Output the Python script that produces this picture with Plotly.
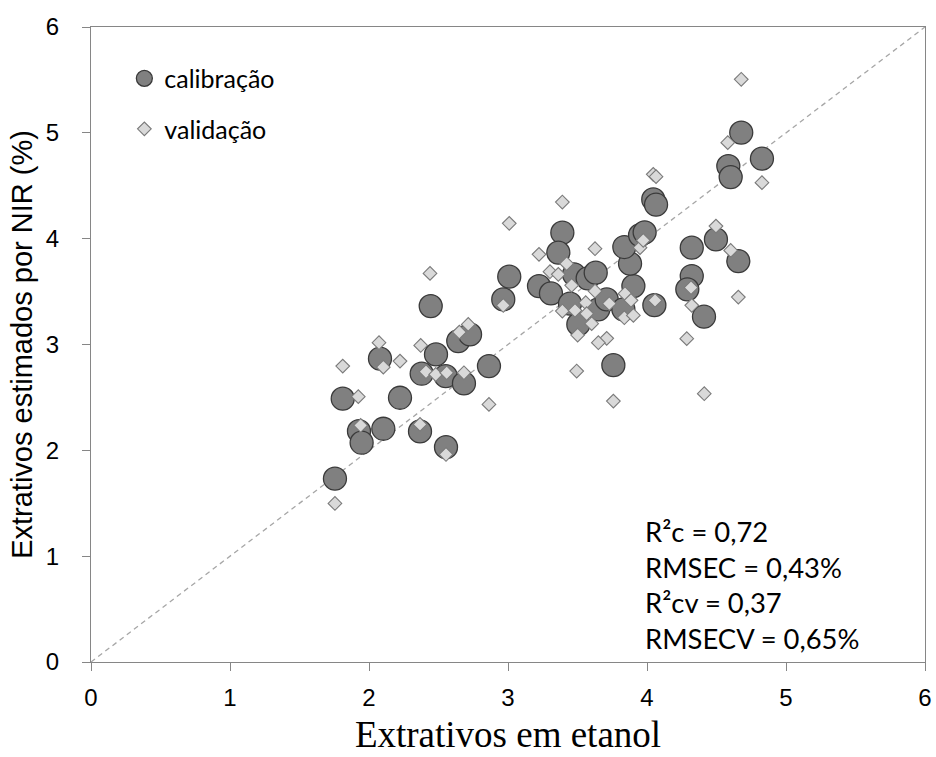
import plotly.graph_objects as go

# Calibração (círculos)
cal_x = [1.755, 1.811, 1.928, 1.947, 2.103, 2.079, 2.223, 2.367, 2.379, 2.482,
         2.444, 2.554, 2.552, 2.642, 2.727, 2.683, 2.863, 2.966, 3.009, 3.223,
         3.309, 3.391, 3.362, 3.475, 3.573, 3.631, 3.446, 3.506, 3.650, 3.710,
         3.830, 3.902, 3.878, 3.837, 3.950, 3.983, 4.053, 3.758, 4.045, 4.065,
         4.322, 4.496, 4.322, 4.290, 4.410, 4.657, 4.585, 4.602, 4.678, 4.827]
cal_y = [1.732, 2.488, 2.181, 2.072, 2.204, 2.866, 2.497, 2.179, 2.724, 2.906,
         3.363, 2.030, 2.701, 3.032, 3.095, 2.632, 2.796, 3.426, 3.641, 3.552,
         3.483, 4.057, 3.868, 3.663, 3.625, 3.679, 3.386, 3.190, 3.332, 3.426,
         3.332, 3.552, 3.764, 3.921, 4.034, 4.060, 3.372, 2.805, 4.371, 4.321,
         3.915, 3.993, 3.647, 3.521, 3.263, 3.788, 4.686, 4.582, 5.002, 4.756]

# Validação (losangos)
val_x = [1.755, 1.811, 1.923, 1.940, 2.072, 2.103, 2.223, 2.372, 2.367, 2.410,
         2.480, 2.439, 2.559, 2.554, 2.650, 2.714, 2.683, 2.863, 2.966, 3.009,
         3.223, 3.391, 3.422, 3.302, 3.362, 3.458, 3.626, 3.626, 3.559, 3.729,
         3.842, 3.885, 3.391, 3.482, 3.566, 3.602, 3.837, 3.902, 3.501, 3.710,
         3.650, 4.058, 3.950, 3.973, 3.494, 3.758, 4.412, 4.286, 4.322, 4.317,
         4.657, 4.602, 4.496, 4.827, 4.045, 4.065, 4.581, 4.678]
val_y = [1.498, 2.796, 2.507, 2.235, 3.017, 2.786, 2.843, 2.991, 2.245, 2.743,
         2.717, 3.672, 2.733, 1.961, 3.117, 3.190, 2.733, 2.434, 3.369, 4.145,
         3.852, 4.346, 3.764, 3.688, 3.663, 3.559, 3.905, 3.505, 3.395, 3.386,
         3.480, 3.417, 3.316, 3.322, 3.291, 3.197, 3.253, 3.275, 3.089, 3.058,
         3.017, 3.417, 3.915, 3.984, 2.749, 2.465, 2.535, 3.055, 3.370, 3.537,
         3.448, 3.889, 4.119, 4.529, 4.608, 4.586, 4.907, 5.506]

ref_line = [0, 6]
tick_vals = [0, 1, 2, 3, 4, 5, 6]
tick_text = ["0", "1", "2", "3", "4", "5", "6"]

stats_lines = ["R²c = 0,72", "RMSEC = 0,43%", "R²cv = 0,37", "RMSECV = 0,65%"]

fig = go.Figure()
fig.add_trace(go.Scatter(x=ref_line, y=ref_line, mode="lines", showlegend=False,
                         line=dict(color="#a6a6a6", width=1.3, dash="5px,4px"),
                         hoverinfo="skip"))
fig.add_trace(go.Scatter(x=cal_x, y=cal_y, mode="markers", name="calibração",
                         legendgroup="c",
                         marker=dict(symbol="circle", size=23, color="#808080",
                                     line=dict(color="#3a3a3a", width=1.3))))
fig.add_trace(go.Scatter(x=val_x, y=val_y, mode="markers", name="validação",
                         legendgroup="v",
                         marker=dict(symbol="diamond", size=10.5, color="#d9d9d9",
                                     line=dict(color="#7a7a7a", width=1.1))))

axis_common = dict(range=[0, 6], tickvals=tick_vals, ticktext=tick_text,
                   showgrid=False, zeroline=False, showline=True, mirror=True,
                   linecolor="#868686", linewidth=1, ticks="outside", ticklen=8,
                   tickcolor="#868686", automargin=False,
                   tickfont=dict(family="Liberation Sans, Arial", size=24, color="#000"))

fig.update_layout(
    width=936, height=757,
    margin=dict(l=91, r=11, t=27, b=95),
    paper_bgcolor="white", plot_bgcolor="white",
    xaxis=dict(**axis_common, ticklabelstandoff=6,
               title=dict(text="Extrativos em etanol", standoff=11,
                          font=dict(family="Liberation Serif, Times New Roman", size=37, color="#000"))),
    yaxis=dict(**axis_common, ticklabelstandoff=18,
               title=dict(text="Extrativos estimados por NIR (%)", standoff=4,
                          font=dict(family="Liberation Sans, Arial", size=29, color="#000"))),
    legend=dict(x=0.04, y=0.955, xanchor="left", yanchor="top",
                traceorder="grouped", tracegroupgap=15, bgcolor="rgba(0,0,0,0)",
                font=dict(family="Lato, Noto Sans", size=25, color="#000"),
                itemsizing="trace"),
    annotations=[dict(x=0.662, y=0.122, xref="paper", yref="paper",
                      xanchor="left", yanchor="middle", align="left", showarrow=False,
                      text="<br>".join(stats_lines),
                      font=dict(family="Lato, Noto Sans", size=27.4, color="#000"))],
)

fig.write_html("out.html", config={"displayModeBar": False},
               post_script="document.body.style.margin='0';")
